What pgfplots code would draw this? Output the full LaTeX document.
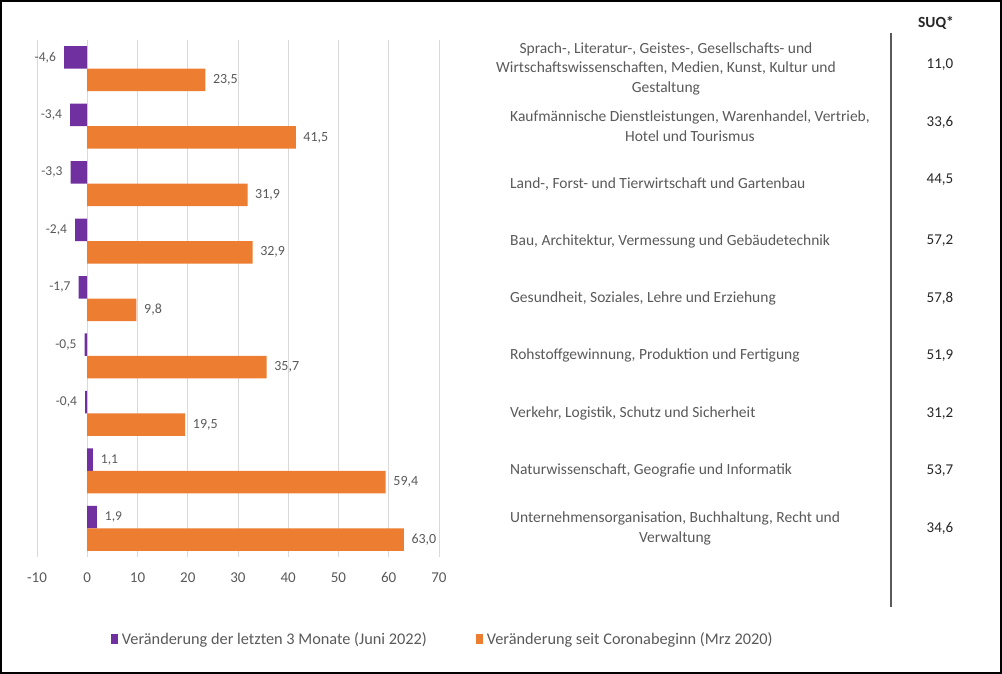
\documentclass[border=0pt]{standalone}
\usepackage{fontspec}
\setmainfont{Carlito}
\usepackage{pgfplots}
\pgfplotsset{compat=1.18}
\definecolor{cpurple}{HTML}{7030A0}
\definecolor{corange}{HTML}{ED7D31}
\definecolor{cgrid}{HTML}{D9D9D9}
\definecolor{ctext}{HTML}{595959}
\definecolor{cdark}{HTML}{262626}
\pgfplotsset{
  sqlegend/.style={legend image code/.code={\fill[##1] (0pt,-5pt) rectangle (7pt,5pt);}},
}
\newcommand\labA{Sprach-, Literatur-, Geistes-, Gesellschafts- und\\Wirtschaftswissenschaften, Medien, Kunst, Kultur und\\Gestaltung}
\begin{document}
\begin{tikzpicture}[x=1pt,y=1pt]
\draw[line width=2pt, black] (1pt,-1pt) rectangle (1001pt,-673pt);
\begin{axis}[
  at={(37pt,-557pt)}, anchor=south west,
  scale only axis, width=402pt, height=517pt,
  xmin=-10, xmax=70, ymin=0.5, ymax=9.5,
  xbar, bar width=22.5pt,
  clip=false,
  xtick={-10,0,...,70},
  xmajorgrids, grid style={cgrid, line width=0.8pt},
  axis line style={draw=none},
  major tick length=0pt,
  /pgf/number format/assume math mode=true,
  xticklabel style={font=\fontsize{15}{18}\selectfont, text=ctext, yshift=-12pt},
  ytick={1,...,8},
  yticklabel pos=right,
  yticklabel style={anchor=west, align=center, inner sep=0pt, xshift=71pt,
     font=\fontsize{15.5}{19.5}\selectfont, text=ctext},
  yticklabels={
    {Unternehmensorganisation, Buchhaltung, Recht und\\Verwaltung},
    {Naturwissenschaft, Geografie und Informatik},
    {Verkehr, Logistik, Schutz und Sicherheit},
    {Rohstoffgewinnung, Produktion und Fertigung},
    {Gesundheit, Soziales, Lehre und Erziehung},
    {Bau, Architektur, Vermessung und Gebäudetechnik},
    {Land-, Forst- und Tierwirtschaft und Gartenbau},
    {Kaufmännische Dienstleistungen, Warenhandel, Vertrieb,\\Hotel und Tourismus}
  },
  extra y ticks={9},
  extra y tick labels={\labA},
  extra y tick style={yticklabel style={xshift=-14pt}},
  point meta=x,
  nodes near coords={\pgfmathprintnumber[use comma,fixed,fixed zerofill,precision=1,assume math mode=true]{\pgfplotspointmeta}},
  legend style={at={(1.012,-0.159)}, anchor=center, draw=none, fill=none,
     font=\fontsize{16.3}{19}\selectfont, text=ctext,
     nodes={inner sep=3.5pt},
     /tikz/every even column/.append style={column sep=46pt}},
  legend columns=2,
]
\addplot[fill=cpurple, draw=none, bar shift=11.25pt, sqlegend,
  every node near coord/.append style={font=\fontsize{13.5}{15}\selectfont, text=ctext, inner sep=8pt}]
  coordinates {(-4.6,9) (-3.4,8) (-3.3,7) (-2.4,6) (-1.7,5) (-0.5,4) (-0.4,3) (1.1,2) (1.9,1)};
\addlegendentry{Veränderung der letzten 3 Monate (Juni 2022)}
\addplot[fill=corange, draw=none, bar shift=-11.25pt, sqlegend,
  every node near coord/.append style={font=\fontsize{14}{16}\selectfont, text=ctext, inner sep=7.5pt}]
  coordinates {(23.5,9) (41.5,8) (31.9,7) (32.9,6) (9.8,5) (35.7,4) (19.5,3) (59.4,2) (63.0,1)};
\addlegendentry{Veränderung seit Coronabeginn (Mrz 2020)}
\end{axis}
\begin{axis}[
  at={(37pt,-557pt)}, anchor=south west,
  scale only axis, width=402pt, height=517pt,
  xmin=-10, xmax=70, ymin=0.5, ymax=9.5,
  axis line style={draw=none}, major tick length=0pt,
  xtick=\empty,
  ytick={1,2,3,4,5,6,7.07,8.07,9.07},
  yticklabel pos=right,
  yticklabel style={anchor=center, xshift=501pt, font=\fontsize{15}{17}\selectfont, text=cdark},
  yticklabels={{34,6},{53,7},{31,2},{51,9},{57,8},{57,2},{44,5},{33,6},{11,0}},
]
\end{axis}
\node[font=\bfseries\fontsize{15.5}{18}\selectfont, text=cdark] at (936pt,-23pt) {SUQ*};
\draw[ctext, line width=1.2pt] (891pt,-33pt) -- (891pt,-607pt);
\end{tikzpicture}
\end{document}
